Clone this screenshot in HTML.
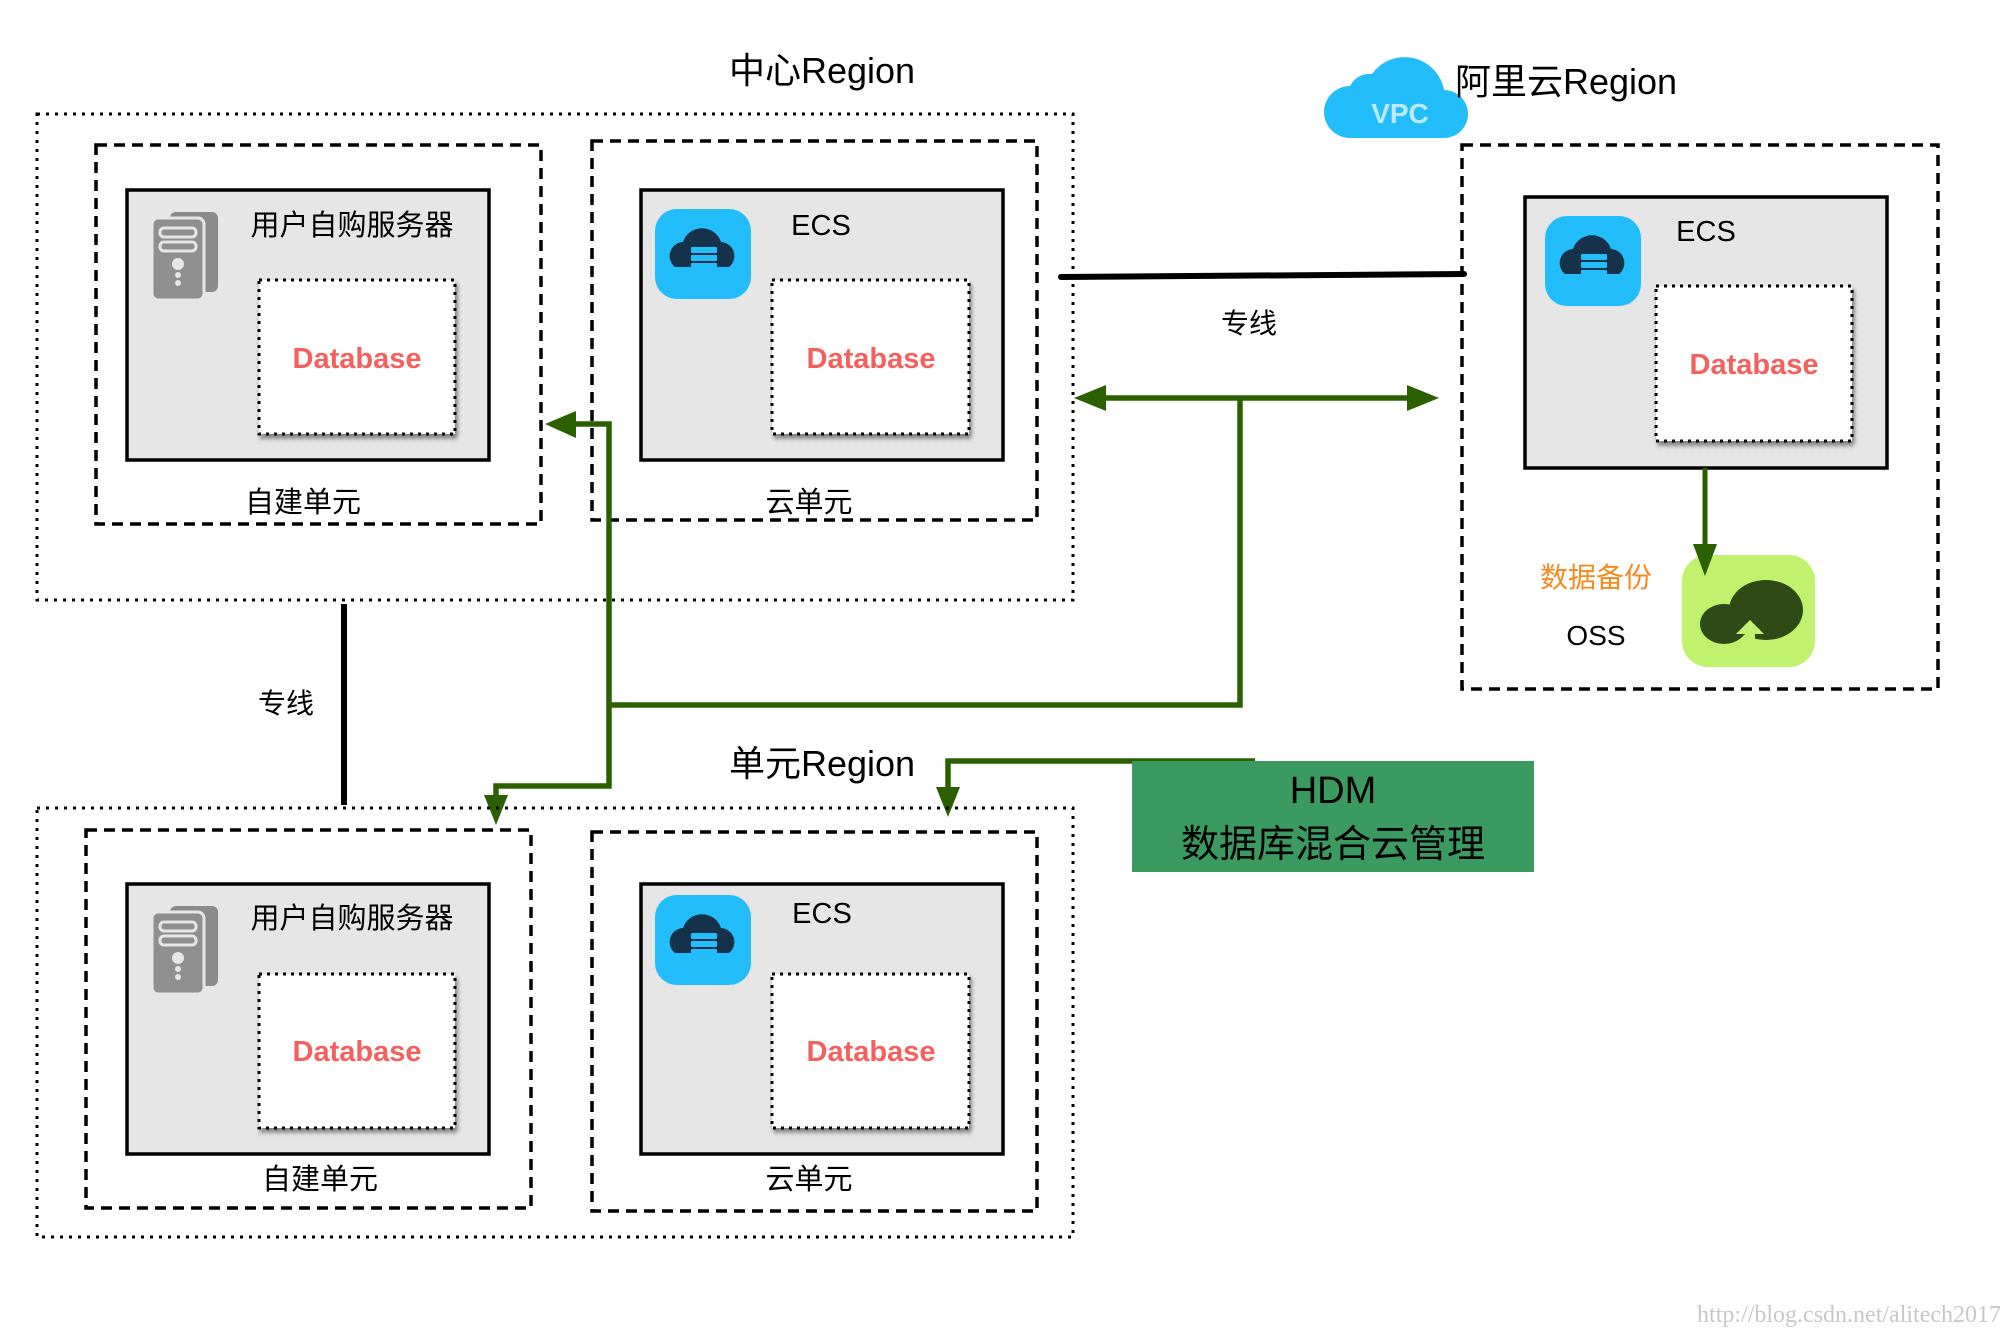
<!DOCTYPE html>
<html><head><meta charset="utf-8"><style>
html,body{margin:0;padding:0;background:#fff;}
svg{display:block;}
text{font-family:"Liberation Sans","Noto Sans CJK SC",sans-serif;}
.db{font-weight:600;}
</style></head><body>
<svg width="2004" height="1330" viewBox="0 0 2004 1330" xmlns="http://www.w3.org/2000/svg">
<defs>
<filter id="sh" x="-10%" y="-10%" width="130%" height="130%"><feDropShadow dx="2" dy="4" stdDeviation="2" flood-color="#000" flood-opacity="0.45"/></filter>
<g id="srv">
  <rect x="18" y="0" width="48" height="80" rx="6" fill="#8a8a8a"/>
  <rect x="0" y="6" width="52" height="82" rx="6" fill="#8f8f8f" stroke="#e6e6e6" stroke-width="3"/>
  <rect x="8" y="16" width="36" height="9" rx="4" fill="none" stroke="#e6e6e6" stroke-width="3"/>
  <rect x="8" y="30" width="36" height="9" rx="4" fill="none" stroke="#e6e6e6" stroke-width="3"/>
  <circle cx="26" cy="52" r="6" fill="#e6e6e6"/><circle cx="26" cy="63" r="3" fill="#e6e6e6"/><circle cx="26" cy="71" r="3" fill="#e6e6e6"/>
</g>
<g id="ecs">
  <rect x="0" y="0" width="96" height="90" rx="22" fill="#23bdfb"/>
  <path d="M20 58 a14 14 0 0 1 8-25 a20 20 0 0 1 38 0 a14 14 0 0 1 8 25 z" fill="#16324a"/>
  <rect x="36" y="38" width="26" height="6" rx="1" fill="#23bdfb"/><rect x="36" y="46" width="26" height="6" rx="1" fill="#23bdfb"/><rect x="36" y="54" width="26" height="6" rx="1" fill="#23bdfb"/>
</g>
</defs>

<text x="822" y="83" font-size="36" text-anchor="middle">中心Region</text>
<rect x="37" y="114" width="1036" height="486" fill="none" stroke="#000" stroke-width="3" stroke-dasharray="3,6"/>
<rect x="96" y="145" width="445" height="379" fill="none" stroke="#000" stroke-width="3.5" stroke-dasharray="11,7"/>
<rect x="127" y="190" width="362" height="270" fill="#e6e6e6" stroke="#000" stroke-width="3.5"/>
<use href="#srv" x="152" y="212"/>
<text x="352" y="235" font-size="29" text-anchor="middle">用户自购服务器</text>
<rect x="259" y="280" width="196" height="154" fill="#fff" stroke="#000" stroke-width="3" stroke-dasharray="3,5" filter="url(#sh)"/>
<text class="db" x="357" y="368" font-size="29" fill="#f4605e" text-anchor="middle">Database</text>
<text x="303" y="512" font-size="29" text-anchor="middle">自建单元</text>

<rect x="592" y="141" width="445" height="379" fill="none" stroke="#000" stroke-width="3.5" stroke-dasharray="11,7"/>
<rect x="641" y="190" width="362" height="270" fill="#e6e6e6" stroke="#000" stroke-width="3.5"/>
<use href="#ecs" x="655" y="209"/>
<text x="821" y="235" font-size="29" text-anchor="middle">ECS</text>
<rect x="772" y="280" width="197" height="154" fill="#fff" stroke="#000" stroke-width="3" stroke-dasharray="3,5" filter="url(#sh)"/>
<text class="db" x="871" y="368" font-size="29" fill="#f4605e" text-anchor="middle">Database</text>
<text x="809" y="512" font-size="29" text-anchor="middle">云单元</text>

<path d="M1350 138 a26 26 0 0 1 0-52 a22 22 0 0 1 22-12 a40 40 0 0 1 72 16 a24 24 0 0 1 0 48 z" fill="#23bdfb"/>
<text x="1400" y="123" font-size="28" font-weight="bold" fill="#bfe9ff" text-anchor="middle">VPC</text>
<text x="1455" y="94" font-size="36">阿里云Region</text>
<rect x="1462" y="145" width="476" height="544" fill="none" stroke="#000" stroke-width="3.5" stroke-dasharray="11,7"/>
<rect x="1525" y="197" width="362" height="271" fill="#e6e6e6" stroke="#000" stroke-width="3.5"/>
<use href="#ecs" x="1545" y="216"/>
<text x="1706" y="241" font-size="29" text-anchor="middle">ECS</text>
<rect x="1656" y="286" width="196" height="155" fill="#fff" stroke="#000" stroke-width="3" stroke-dasharray="3,5" filter="url(#sh)"/>
<text class="db" x="1754" y="374" font-size="29" fill="#f4605e" text-anchor="middle">Database</text>
<text x="1596" y="587" font-size="28" fill="#f58a1f" text-anchor="middle">数据备份</text>
<text x="1596" y="645" font-size="28" text-anchor="middle">OSS</text>
<rect x="1682" y="555" width="133" height="112" rx="26" fill="#c0f26e"/>
<ellipse cx="1766" cy="610" rx="37" ry="30" fill="#2d4a17"/>
<ellipse cx="1724" cy="624" rx="24" ry="20" fill="#2d4a17"/>
<path d="M1745 648 l0-14 l-9 0 l14-14 l14 14 l-9 0 l0 14z" fill="#c0f26e"/>
<line x1="1705" y1="468" x2="1705" y2="550" stroke="#2a6000" stroke-width="5"/>
<polygon points="1693,544 1717,544 1705,576" fill="#2a6000"/>

<line x1="1061" y1="277" x2="1464" y2="274" stroke="#000" stroke-width="6" stroke-linecap="round"/>
<text x="1249" y="333" font-size="28" text-anchor="middle">专线</text>
<line x1="344" y1="604" x2="344" y2="805" stroke="#000" stroke-width="6"/>
<text x="286" y="713" font-size="28" text-anchor="middle">专线</text>

<g stroke="#2a6000" stroke-width="5.5" fill="none">
<line x1="1100" y1="398" x2="1410" y2="398"/>
<polyline points="1240,398 1240,705 609,705"/>
<polyline points="563,424 609,424 609,786 496,786 496,800"/>
<polyline points="1255,761 948,761 948,795"/>
</g>
<g fill="#2a6000">
<polygon points="1074,398 1106,385 1106,411"/>
<polygon points="1439,398 1407,385 1407,411"/>
<polygon points="545,424 576,411 576,438"/>
<polygon points="484,795 508,795 496,825"/>
<polygon points="936,787 960,787 948,817"/>
</g>
<rect x="1132" y="761" width="402" height="111" fill="#3a9a60"/>
<text x="1333" y="803" font-size="38" text-anchor="middle">HDM</text>
<text x="1333" y="857" font-size="38" text-anchor="middle">数据库混合云管理</text>

<text x="822" y="776" font-size="36" text-anchor="middle">单元Region</text>
<rect x="37" y="808" width="1036" height="429" fill="none" stroke="#000" stroke-width="3" stroke-dasharray="3,6"/>
<rect x="86" y="830" width="445" height="378" fill="none" stroke="#000" stroke-width="3.5" stroke-dasharray="11,7"/>
<rect x="127" y="884" width="362" height="270" fill="#e6e6e6" stroke="#000" stroke-width="3.5"/>
<use href="#srv" x="152" y="906"/>
<text x="352" y="928" font-size="29" text-anchor="middle">用户自购服务器</text>
<rect x="259" y="974" width="196" height="154" fill="#fff" stroke="#000" stroke-width="3" stroke-dasharray="3,5" filter="url(#sh)"/>
<text class="db" x="357" y="1061" font-size="29" fill="#f4605e" text-anchor="middle">Database</text>
<text x="320" y="1189" font-size="29" text-anchor="middle">自建单元</text>

<rect x="592" y="832" width="445" height="379" fill="none" stroke="#000" stroke-width="3.5" stroke-dasharray="11,7"/>
<rect x="641" y="884" width="362" height="270" fill="#e6e6e6" stroke="#000" stroke-width="3.5"/>
<use href="#ecs" x="655" y="895"/>
<text x="822" y="923" font-size="29" text-anchor="middle">ECS</text>
<rect x="772" y="974" width="197" height="154" fill="#fff" stroke="#000" stroke-width="3" stroke-dasharray="3,5" filter="url(#sh)"/>
<text class="db" x="871" y="1061" font-size="29" fill="#f4605e" text-anchor="middle">Database</text>
<text x="809" y="1189" font-size="29" text-anchor="middle">云单元</text>

<text x="2001" y="1322" font-size="24" fill="#c8c8c8" text-anchor="end" style="font-family:'Liberation Serif',serif">http://blog.csdn.net/alitech2017</text>
</svg>
</body></html>
